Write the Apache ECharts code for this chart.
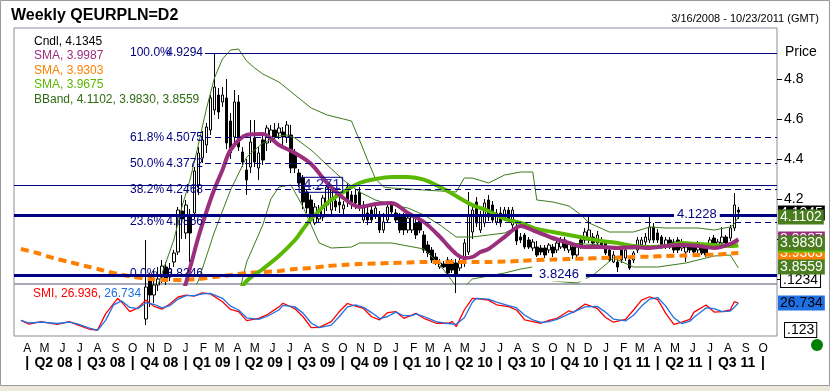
<!DOCTYPE html>
<html><head><meta charset="utf-8">
<script src="https://cdn.jsdelivr.net/npm/echarts@6/dist/echarts.min.js"></script>
<style>html,body{margin:0;padding:0;background:#fff}#c{width:830px;height:391px}</style>
</head><body><div id="c"></div>
<script>
// ---------- DATA (weekly bars, first bar Fri 2008-03-21) ----------
const opens = [3.56,3.53,3.50,3.48,3.45,3.44,3.43,3.45,3.41,3.40,3.37,3.38,3.37,3.36,3.35,3.31,3.27,3.24,3.22,3.25,
3.27,3.28,3.32,3.36,3.37,3.40,3.38,3.46,3.55,3.50,3.62,3.60,3.81,3.72,3.77,3.81,3.86,3.81,3.885,3.935,
4.14,4.03,4.12,4.13,4.27,4.405,4.47,4.545,4.645,4.72,4.685,4.705,4.59,4.51,4.685,4.435,4.345,4.36,4.505,4.355,
4.495,4.48,4.505,4.545,4.53,4.535,4.51,4.52,4.43,4.33,4.305,4.235,4.195,4.08,4.10,4.11,4.17,4.145,4.19,4.185,
4.15,4.26,4.22,4.22,4.235,4.095,4.13,4.145,4.12,4.12,4.045,4.095,4.17,4.13,4.11,4.11,4.045,4.045,4.08,4.095,
4.02,3.97,3.945,3.91,3.86,3.875,3.895,3.885,3.88,3.855,3.88,3.935,4.035,4.185,4.045,4.08,4.195,4.17,4.085,4.13,
4.105,4.145,4.07,4.06,4.01,4.02,3.995,3.955,3.96,3.955,3.955,3.945,3.96,3.945,3.96,3.995,3.945,3.96,3.92,3.995,
3.995,3.995,4.01,3.98,3.995,3.98,3.945,3.885,3.885,3.945,3.905,3.895,3.895,3.945,3.97,3.985,3.995,4.06,4.03,4.01,
3.96,3.995,3.985,3.995,3.955,3.935,3.97,3.96,3.945,3.96,3.96,3.97,4.005,3.96,3.98,4.01,4.005,4.055,4.145];
const highs = [3.58,3.55,3.52,3.50,3.47,3.46,3.47,3.46,3.43,3.41,3.39,3.40,3.38,3.37,3.36,3.32,3.28,3.26,3.26,3.28,
3.30,3.33,3.37,3.39,3.42,3.44,3.48,3.58,3.62,3.66,3.70,3.995,3.83,3.845,3.86,3.895,3.885,3.88,3.945,4.16,
4.22,4.195,4.15,4.36,4.46,4.54,4.58,4.72,4.93,4.755,4.76,4.80,4.63,4.745,4.72,4.46,4.40,4.595,4.595,4.46,
4.52,4.57,4.57,4.58,4.58,4.56,4.59,4.57,4.45,4.35,4.32,4.25,4.22,4.18,4.17,4.22,4.27,4.271,4.24,4.22,
4.19,4.28,4.24,4.25,4.26,4.19,4.16,4.17,4.18,4.14,4.13,4.18,4.19,4.15,4.13,4.13,4.12,4.13,4.12,4.11,
4.04,3.99,3.96,3.93,3.90,3.89,3.91,3.90,3.90,3.91,4.00,4.235,4.16,4.21,4.14,4.20,4.22,4.19,4.15,4.16,
4.16,4.16,4.16,4.08,4.03,4.03,4.01,4.00,3.99,3.97,3.97,3.98,3.975,3.99,4.01,4.01,3.99,3.975,3.97,4.01,
4.055,4.11,4.03,4.04,4.01,3.99,3.96,3.94,3.90,3.96,3.96,3.91,3.94,4.01,4.01,4.03,4.12,4.08,4.05,4.02,
4.01,4.01,4.00,4.01,4.00,3.97,3.98,3.97,3.99,3.97,3.97,4.01,4.02,4.00,4.06,4.02,4.07,4.23,4.16];
const lows = [3.51,3.48,3.46,3.44,3.42,3.40,3.41,3.40,3.38,3.36,3.35,3.36,3.34,3.33,3.30,3.26,3.22,3.20,3.21,3.23,
3.25,3.26,3.30,3.33,3.35,3.37,3.36,3.44,3.45,3.48,3.55,3.57,3.66,3.68,3.74,3.78,3.77,3.79,3.86,3.92,
4.00,4.00,3.885,4.10,4.22,4.38,4.43,4.52,4.62,4.60,4.66,4.45,4.40,4.47,4.44,4.36,4.22,4.33,4.36,4.295,
4.37,4.44,4.48,4.48,4.50,4.47,4.48,4.33,4.33,4.26,4.15,4.13,4.08,4.07,4.08,4.09,4.14,4.12,4.14,4.13,
4.11,4.16,4.15,4.15,4.14,4.08,4.07,4.08,4.10,4.03,4.03,4.08,4.12,4.08,4.03,4.02,4.03,4.03,4.00,4.03,
3.93,3.91,3.88,3.87,3.85,3.855,3.82,3.83,3.73,3.84,3.86,3.92,4.00,4.06,4.03,4.06,4.09,4.08,4.07,4.06,
4.09,4.08,4.05,3.97,3.98,3.95,3.95,3.94,3.91,3.92,3.905,3.93,3.91,3.93,3.95,3.94,3.93,3.90,3.90,3.95,
3.98,3.98,3.97,3.96,3.95,3.92,3.885,3.88,3.835,3.88,3.89,3.845,3.88,3.93,3.96,3.97,3.98,3.98,3.98,3.95,
3.95,3.95,3.93,3.93,3.94,3.885,3.93,3.92,3.93,3.92,3.91,3.96,3.97,3.95,3.97,3.97,3.99,4.04,4.10];
const closes = [3.53,3.50,3.48,3.45,3.44,3.43,3.45,3.41,3.40,3.37,3.38,3.37,3.36,3.35,3.31,3.27,3.24,3.22,3.25,3.27,
3.28,3.32,3.36,3.37,3.40,3.38,3.46,3.55,3.50,3.62,3.60,3.76,3.72,3.77,3.80,3.865,3.805,3.85,3.93,4.145,
4.10,4.17,4.03,4.34,4.43,4.495,4.56,4.705,4.76,4.635,4.72,4.48,4.43,4.685,4.46,4.385,4.295,4.485,4.385,4.43,
4.395,4.555,4.545,4.51,4.555,4.51,4.57,4.355,4.355,4.28,4.185,4.155,4.095,4.16,4.145,4.205,4.26,4.245,4.16,4.17,
4.17,4.185,4.185,4.18,4.17,4.17,4.095,4.095,4.155,4.045,4.085,4.16,4.135,4.095,4.045,4.045,4.105,4.11,4.02,4.045,
3.945,3.93,3.895,3.885,3.88,3.86,3.83,3.845,3.82,3.89,3.98,4.12,4.145,4.08,4.12,4.18,4.11,4.095,4.13,4.08,
4.145,4.095,4.145,3.99,3.995,3.96,3.96,3.985,3.92,3.935,3.92,3.97,3.93,3.98,3.995,3.955,3.98,3.92,3.96,3.96,
4.035,4.045,3.98,4.02,3.96,3.93,3.895,3.92,3.86,3.895,3.945,3.855,3.93,3.995,3.995,4.01,4.06,3.995,3.995,3.96,
3.995,3.96,3.945,3.945,3.985,3.96,3.945,3.935,3.98,3.93,3.92,3.995,3.98,3.985,4.01,3.98,4.055,4.17,4.1345];

// indicator lines: [week index, value]
const smaPurple = [[0,3.60],[4,3.47],[8,3.43],[12,3.39],[16,3.33],[20,3.27],[24,3.33],[28,3.44],[32,3.56],[36,3.64],
[40,3.73],[42,3.86],[44,4.008],[46,4.135],[48,4.25],[50,4.345],[52,4.445],[56,4.52],[60,4.525],[64,4.47],[68,4.43],
[72,4.375],[76,4.28],[80,4.205],[84,4.16],[88,4.175],[92,4.18],[96,4.13],[100,4.085],[104,4.01],[106,3.965],[108,3.925],
[110,3.905],[112,3.91],[114,3.935],[116,3.95],[120,4.01],[124,4.065],[128,4.035],[132,4.005],[136,3.98],[140,3.96],
[144,3.96],[148,3.955],[152,3.96],[156,3.955],[160,3.965],[164,3.97],[168,3.965],[172,3.955],[176,3.975],[178,3.9987]];
const smaOrange = [[0,3.95],[4,3.93],[8,3.905],[12,3.885],[16,3.865],[20,3.845],[24,3.825],[28,3.81],[32,3.80],[36,3.795],
[40,3.795],[44,3.80],[48,3.81],[52,3.82],[56,3.83],[60,3.835],[64,3.84],[68,3.85],[72,3.855],[76,3.865],[80,3.87],
[84,3.875],[88,3.877],[92,3.88],[96,3.882],[100,3.885],[104,3.885],[108,3.885],[112,3.885],[116,3.885],[120,3.887],
[124,3.89],[128,3.895],[132,3.897],[136,3.90],[140,3.902],[144,3.905],[148,3.907],[152,3.91],[156,3.912],[160,3.915],
[164,3.917],[168,3.92],[172,3.922],[176,3.927],[178,3.9303]];
const smaGreen = [[0,3.62],[8,3.56],[16,3.49],[24,3.42],[32,3.37],[40,3.42],[48,3.57],[52,3.68],[56,3.79],[60,3.85],
[64,3.915],[68,3.995],[70,4.05],[72,4.10],[76,4.18],[80,4.235],[84,4.28],[88,4.30],[92,4.31],[96,4.31],[100,4.297],
[104,4.26],[108,4.215],[112,4.17],[116,4.14],[120,4.10],[124,4.08],[128,4.05],[132,4.035],[136,4.02],[140,4.005],
[144,3.99],[148,3.98],[152,3.965],[156,3.96],[160,3.965],[164,3.98],[168,3.975],[172,3.97],[176,3.965],[178,3.9675]];
const bbUpper = [[0,3.66],[8,3.55],[16,3.45],[24,3.44],[28,3.55],[32,3.72],[34,3.77],[36,3.885],[38,4.00],[40,4.165],
[42,4.30],[44,4.47],[46,4.65],[48,4.805],[50,4.90],[52,4.945],[54,4.95],[56,4.89],[58,4.855],[60,4.825],[64,4.785],
[68,4.72],[72,4.655],[76,4.62],[80,4.60],[82,4.59],[84,4.495],[86,4.395],[88,4.30],[90,4.26],[92,4.255],[96,4.25],
[100,4.245],[104,4.24],[108,4.235],[110,4.305],[112,4.305],[116,4.28],[120,4.32],[124,4.335],[127,4.335],[128,4.195],
[132,4.185],[136,4.165],[139,4.12],[141,4.08],[146,4.035],[152,4.035],[156,4.06],[160,4.055],[168,4.055],[172,4.045],
[176,4.06],[177,4.075],[178,4.1102]];
const bbMiddle = [[0,3.52],[8,3.47],[16,3.38],[24,3.32],[32,3.42],[36,3.52],[40,3.64],[44,3.79],[48,4.035],[52,4.245],
[56,4.41],[60,4.48],[64,4.515],[66,4.52],[68,4.505],[72,4.445],[76,4.37],[80,4.295],[84,4.235],[88,4.195],[92,4.17],
[96,4.155],[100,4.12],[104,4.07],[108,4.01],[112,4.01],[116,4.02],[120,4.03],[124,4.07],[128,4.03],[132,3.995],
[136,3.98],[140,3.975],[144,3.97],[148,3.955],[152,3.95],[156,3.965],[160,3.97],[164,3.97],[168,3.965],[172,3.96],
[176,3.97],[178,3.983]];
const bbLower = [[0,3.40],[8,3.33],[16,3.28],[24,3.18],[32,3.05],[40,3.10],[48,3.25],[52,3.55],[54,3.72],[56,3.885],
[60,4.07],[62,4.20],[64,4.26],[67,4.27],[70,4.16],[74,3.98],[77,3.955],[82,3.96],[84,3.98],[92,3.98],[100,3.95],
[104,3.87],[107,3.79],[108,3.76],[110,3.76],[112,3.80],[116,3.815],[120,3.83],[124,3.85],[127,3.86],[128,3.82],
[132,3.79],[138,3.78],[142,3.82],[147,3.905],[152,3.86],[158,3.86],[165,3.88],[172,3.915],[176,3.92],[178,3.8559]];
const smiRed = [[0,-40],[2,-54],[5,-45],[9,-55],[12,-45],[14,-57],[17,-74],[19,-77],[21,-15],[24,45],[25,30],[27,-6],
[29,8],[31,38],[33,14],[35,3],[37,24],[39,50],[41,57],[43,53],[45,66],[47,62],[50,32],[52,2],[54,-6],[56,-41],[59,-32],
[61,-19],[64,12],[65,26],[68,5],[70,-26],[72,-68],[74,-67],[77,-45],[79,-6],[81,25],[83,15],[85,6],[87,-26],[89,-38],
[91,-10],[93,-6],[95,-32],[97,-20],[98,-13],[100,-32],[103,-51],[106,-51],[107,-45],[108,-64],[110,0],[112,45],[113,44],
[116,38],[118,20],[121,13],[123,0],[125,-38],[127,-45],[129,-51],[131,-40],[133,-32],[136,-3],[137,-10],[140,23],
[143,6],[145,-28],[147,-47],[150,-36],[152,0],[154,38],[156,51],[158,40],[160,-13],[162,-55],[164,-47],[166,-36],
[167,-8],[170,19],[172,-8],[174,-6],[176,0],[177,32],[178,26.936]];
const smiBlue = [[0,-40],[2,-50],[5,-47],[9,-52],[12,-47],[14,-53],[17,-70],[19,-78],[21,-40],[23,20],[25,35],[27,10],
[29,5],[31,28],[33,22],[35,8],[37,17],[39,42],[41,55],[43,55],[45,62],[47,64],[50,45],[52,15],[54,0],[56,-30],[59,-36],
[61,-25],[64,0],[65,18],[68,12],[70,-12],[72,-50],[74,-68],[77,-58],[79,-25],[81,12],[83,20],[85,10],[87,-10],[89,-33],
[91,-25],[93,-8],[95,-22],[97,-22],[98,-15],[100,-25],[103,-45],[106,-52],[108,-55],[110,-30],[112,30],[113,45],
[116,42],[118,30],[121,17],[123,8],[125,-20],[127,-38],[129,-48],[131,-45],[133,-36],[136,-15],[137,-8],[140,12],
[143,14],[145,-8],[147,-35],[150,-42],[152,-20],[154,15],[156,42],[158,48],[160,15],[162,-30],[164,-52],[166,-43],
[167,-28],[170,8],[172,5],[174,-6],[176,-4],[177,10],[178,26.734]];

const fibPercents = [100.0, 61.8, 50.0, 38.2, 23.6, 0.0];
const fibValues = [4.9294, 4.5075, 4.3772, 4.2468, 4.0856, 3.8246];
const levelValues = [4.271, 4.1228, 3.8246];
const priceTicks = [3.8, 4.0, 4.2, 4.4, 4.6, 4.8];
const monthLetters = ['J','F','M','A','M','J','J','A','S','O','N','D'];

// ---------- helpers ----------
const DAY = 86400000;
const ORIGIN = Date.UTC(2008, 2, 16);
const dayOf = (y, m, d) => (Date.UTC(y, m, d) - ORIGIN) / DAY;
const FIRST_BAR = dayOf(2008, 2, 21);
const barDay = i => FIRST_BAR + 7 * i;
const X_MIN = -7.1, X_MAX = 1318.2;
const FIB_START = 324.7;
const key = v => Math.round(v * 1000);

const monthVals = [], labelMap = new Map();
for (let y = 2008, m = 3; y < 2011 || (y === 2011 && m <= 9);) {
  const d = dayOf(y, m, 1); monthVals.push(d); labelMap.set(key(d), monthLetters[m]);
  m++; if (m > 11) { m = 0; y++; }
}
const qStarts = [], qVals = [], qMap = new Map();
for (let y = 2008; y <= 2011; y++) for (const m of [0, 3, 6, 9]) {
  if ((y === 2008 && m < 3) || (y === 2011 && m > 9)) continue;
  qStarts.push({ d: dayOf(y, m, 1), y, m });
}
qStarts.forEach((q, k) => {
  qVals.push(q.d); qMap.set(key(q.d), '|');
  if (k < qStarts.length - 1) {
    const mid = (q.d + qStarts[k + 1].d) / 2;
    qVals.push(mid); qMap.set(key(mid), 'Q' + (q.m / 3 + 1) + ' ' + String(q.y).slice(2));
  }
});

const toXY = arr => arr.map(([i, v]) => [barDay(i), v]);
const last = arr => arr[arr.length - 1][1];
const candleData = opens.map((o, i) => [barDay(i), o, closes[i], lows[i], highs[i]]);

const FONT = '"Liberation Sans", Arial, sans-serif';
const NAVY = '#000080';
const C_PURPLE = '#9b2f7d', C_ORANGE = '#ff8000', C_GREEN = '#5bb800', C_BB = '#3d7a1a', C_BBTXT = '#2f6b12';
const C_RED = '#ff0000', C_BLUE = '#1f6fe5';
const HIDDEN = 'rgba(0,0,0,0)';

const lastClose = closes[closes.length - 1];
const legendText = {
  'Cndl': 'Cndl, ' + lastClose.toFixed(4),
  'SMA10': 'SMA, ' + last(smaPurple).toFixed(4),
  'SMA100': 'SMA, ' + last(smaOrange).toFixed(4),
  'SMA40': 'SMA, ' + last(smaGreen).toFixed(4),
  'BBand': 'BBand, ' + last(bbUpper).toFixed(4) + ', ' + last(bbMiddle).toFixed(4) + ', ' + last(bbLower).toFixed(4)
};

const fibLines = fibValues.map((v, k) => [
  { coord: [FIB_START, v],
    lineStyle: { type: (k === 0 || k === fibValues.length - 1) ? 'solid' : [6, 4], width: 1, color: NAVY },
    label: { formatter: '{p|' + fibPercents[k].toFixed(1) + '%}{v|' + v.toFixed(4) + '}' } },
  { coord: [X_MAX, v] }
]);
const levelLines = levelValues.map((v, k) => ({ yAxis: v, lineStyle: { width: k === 0 ? 1 : 3, type: 'solid', color: NAVY }, label: { show: false } }));
const levelLabelDays = [526, 1179, 939.5];
const levelLabels = levelValues.map((v, k) => ({
  coord: [levelLabelDays[k], v], symbol: 'rect', symbolSize: 0,
  label: k === 0
    ? { show: true, position: 'inside', formatter: v.toFixed(3), color: '#2a2aa8', fontSize: 15, fontFamily: FONT, borderColor: NAVY, borderWidth: 1, padding: [0, 2, 0, 4] }
    : { show: true, position: 'inside', formatter: v.toFixed(4), color: NAVY, fontSize: 13, fontFamily: FONT, backgroundColor: '#fff', padding: k === 1 ? [1, 3] : [1, 7] }
}));

function box(v, bg, fg, digits) {
  return { yAxis: v, lineStyle: { color: HIDDEN, width: 1 }, label: { show: true, position: 'end', distance: 1, formatter: v.toFixed(digits || 4),
    backgroundColor: bg, color: fg, fontSize: 14, fontFamily: FONT, padding: [1, 2, 0, 2], lineHeight: 14 } };
}

const option = {
  animation: false,
  backgroundColor: '#ffffff',
  title: [
    { text: 'Weekly QEURPLN=D2', left: 6, top: 3, textStyle: { fontSize: 16, fontWeight: 'bold', fontFamily: FONT, color: '#000' } },
    { text: '3/16/2008 - 10/23/2011 (GMT)', right: 6, top: 8, textStyle: { fontSize: 11, fontWeight: 'normal', fontFamily: FONT, color: '#000' } }
  ],
  legend: [
    { left: 23, top: 29, orient: 'vertical', itemWidth: 0, itemHeight: 0, itemGap: 0, selectedMode: false, icon: 'rect',
      data: [
        { name: 'Cndl', textStyle: { color: '#000' } },
        { name: 'SMA10', textStyle: { color: C_PURPLE } },
        { name: 'SMA100', textStyle: { color: C_ORANGE } },
        { name: 'SMA40', textStyle: { color: C_GREEN } },
        { name: 'BBand', textStyle: { color: C_BBTXT } }
      ],
      formatter: n => legendText[n],
      textStyle: { fontSize: 12, fontFamily: FONT, lineHeight: 14.5 } },
    { left: 23, top: 283, itemWidth: 0, itemHeight: 0, selectedMode: false, icon: 'rect',
      data: ['SMI'],
      formatter: () => '{r|SMI, ' + last(smiRed).toFixed(3) + ',} {b|' + last(smiBlue).toFixed(3) + '}',
      textStyle: { fontSize: 12, fontFamily: FONT, rich: { r: { color: C_RED, fontSize: 12, fontFamily: FONT }, b: { color: C_BLUE, fontSize: 12, fontFamily: FONT } } } }
  ],
  grid: [
    { left: 14, right: 53, top: 28, height: 256, show: true, borderColor: '#8c8c9c', borderWidth: 1 },
    { left: 14, right: 53, top: 284, height: 52, show: true, borderColor: '#8c8c9c', borderWidth: 1 }
  ],
  xAxis: [
    { gridIndex: 0, type: 'value', min: X_MIN, max: X_MAX, axisLine: { show: false, onZero: false }, axisTick: { show: false }, axisLabel: { show: false }, splitLine: { show: false } },
    { gridIndex: 1, type: 'value', min: X_MIN, max: X_MAX, position: 'bottom', axisLine: { show: false, onZero: false }, axisTick: { show: false }, splitLine: { show: false },
      axisLabel: { customValues: monthVals, formatter: v => labelMap.get(key(v)) || '', fontSize: 12, fontFamily: FONT, color: '#000', margin: 7, hideOverlap: false } },
    { gridIndex: 1, type: 'value', min: X_MIN, max: X_MAX, position: 'bottom', offset: 15, axisLine: { show: false, onZero: false }, axisTick: { show: false }, splitLine: { show: false },
      axisLabel: { customValues: qVals, formatter: v => qMap.get(key(v)) || '', fontSize: 14, fontWeight: 'bold', fontFamily: FONT, color: '#000', margin: 5, hideOverlap: false } }
  ],
  yAxis: [
    { gridIndex: 0, type: 'value', position: 'right', min: 3.775, max: 5.055,
      axisLine: { show: true, onZero: false, lineStyle: { color: HIDDEN } }, splitLine: { show: false },
      axisTick: { show: true, inside: false, customValues: priceTicks, length: 5, lineStyle: { color: '#000', width: 1 } },
      axisLabel: { customValues: priceTicks, formatter: v => v.toFixed(1), margin: 7, fontSize: 14, fontFamily: FONT, color: '#000' } },
    { gridIndex: 1, type: 'value', position: 'right', min: -100, max: 100,
      axisLine: { show: false, onZero: false }, axisTick: { show: false }, axisLabel: { show: false }, splitLine: { show: false } }
  ],
  series: [
    { name: 'levels', type: 'line', xAxisIndex: 0, yAxisIndex: 0, data: [], z: 1, silent: true,
      markLine: { symbol: 'none', silent: true, animation: false,
        label: { show: true, position: 'start', distance: 2, color: NAVY, fontSize: 12, fontFamily: FONT,
          rich: { p: { width: 40, align: 'left', color: NAVY, fontSize: 12, fontFamily: FONT }, v: { width: 33, align: 'right', color: NAVY, fontSize: 12, fontFamily: FONT } } },
        data: fibLines.concat(levelLines) } },
    { name: 'levelLabels', type: 'line', xAxisIndex: 0, yAxisIndex: 0, data: [], z: 6, silent: true,
      markPoint: { silent: true, animation: false, data: levelLabels } },
    { name: 'Cndl', type: 'candlestick', xAxisIndex: 0, yAxisIndex: 0, z: 2, barWidth: 3, clip: true,
      dimensions: ['day', 'open', 'close', 'lowest', 'highest'],
      encode: { x: 'day', y: ['open', 'close', 'lowest', 'highest'] },
      itemStyle: { color: '#ffffff', color0: '#000000', borderColor: '#000000', borderColor0: '#000000', borderWidth: 1 },
      data: candleData },
    { name: 'BBand', type: 'line', xAxisIndex: 0, yAxisIndex: 0, z: 3, showSymbol: false, symbol: 'none', lineStyle: { color: C_BB, width: 1 }, itemStyle: { color: C_BB }, data: toXY(bbUpper) },
    { name: 'BBand', type: 'line', xAxisIndex: 0, yAxisIndex: 0, z: 3, showSymbol: false, symbol: 'none', lineStyle: { color: C_BB, width: 1 }, itemStyle: { color: C_BB }, data: toXY(bbMiddle) },
    { name: 'BBand', type: 'line', xAxisIndex: 0, yAxisIndex: 0, z: 3, showSymbol: false, symbol: 'none', lineStyle: { color: C_BB, width: 1 }, itemStyle: { color: C_BB }, data: toXY(bbLower) },
    { name: 'SMA100', type: 'line', xAxisIndex: 0, yAxisIndex: 0, z: 4, showSymbol: false, symbol: 'none', smooth: 0.3, lineStyle: { color: C_ORANGE, width: 4, type: [8, 5] }, itemStyle: { color: C_ORANGE }, data: toXY(smaOrange) },
    { name: 'SMA40', type: 'line', xAxisIndex: 0, yAxisIndex: 0, z: 4, showSymbol: false, symbol: 'none', smooth: 0.3, lineStyle: { color: C_GREEN, width: 4 }, itemStyle: { color: C_GREEN }, data: toXY(smaGreen) },
    { name: 'SMA10', type: 'line', xAxisIndex: 0, yAxisIndex: 0, z: 4, showSymbol: false, symbol: 'none', smooth: 0.3, lineStyle: { color: C_PURPLE, width: 4 }, itemStyle: { color: C_PURPLE }, data: toXY(smaPurple) },
    { name: 'boxes', type: 'line', xAxisIndex: 0, yAxisIndex: 0, data: [], z: 10, silent: true,
      markLine: { symbol: 'none', silent: true, animation: false,
        data: [
          box(lastClose, '#000000', '#ffffff'),
          box(last(smaPurple), C_PURPLE, '#ffffff'),
          box(last(smaOrange), C_ORANGE, '#ffffff'),
          box(last(smaGreen), C_GREEN, '#ffffff'),
          box(last(bbUpper), '#4a7d1e', '#ffffff'),
          box(last(bbMiddle), '#4a7d1e', '#ffffff'),
          box(last(bbLower), '#4a7d1e', '#ffffff')
        ] } },
    { name: 'SMI', type: 'line', xAxisIndex: 1, yAxisIndex: 1, showSymbol: false, symbol: 'none', lineStyle: { color: C_RED, width: 1.3 }, itemStyle: { color: C_RED }, data: toXY(smiRed) },
    { name: 'SMI', type: 'line', xAxisIndex: 1, yAxisIndex: 1, showSymbol: false, symbol: 'none', lineStyle: { color: C_BLUE, width: 1.3 }, itemStyle: { color: C_BLUE }, data: toXY(smiBlue), z: 5,
      markLine: { symbol: 'none', silent: true, animation: false,
        data: [box(last(smiBlue), C_BLUE, '#000', 3)] } }
  ],
  graphic: [
    { type: 'rect', shape: { x: 0.5, y: 0.5, width: 829, height: 385 }, style: { fill: 'none', stroke: '#9a9a9a', lineWidth: 1 }, silent: true, z: -1 },
    { type: 'rect', shape: { x: 0, y: 386, width: 830, height: 5 }, style: { fill: '#ece9d8' }, silent: true, z: -1 },
    { type: 'text', left: 785, top: 45, style: { text: 'Price', fontSize: 14, fontFamily: FONT, fill: '#000' }, silent: true },
    { type: 'text', left: 784, top: 300, z: 0, style: { text: 'Value', fontSize: 13, fontFamily: FONT, fill: '#000' }, silent: true },
    { type: 'text', left: 780, top: 272, z: 1, style: { text: '.1234', fontSize: 14, fontFamily: FONT, fill: '#000', backgroundColor: '#fff', borderColor: '#000', borderWidth: 1, padding: [0, 2, 0, 2] }, silent: true },
    { type: 'text', left: 784, top: 322, style: { text: '.123', fontSize: 14, fontFamily: FONT, fill: '#000', backgroundColor: '#fff', borderColor: '#000', borderWidth: 1, padding: [0, 2, 0, 2] }, silent: true },
    { type: 'circle', shape: { cx: 817, cy: 345, r: 6 }, style: { fill: '#008000' }, silent: true }
  ]
};
const chart = echarts.init(document.getElementById('c'));
chart.setOption(option);
</script>
</body></html>
